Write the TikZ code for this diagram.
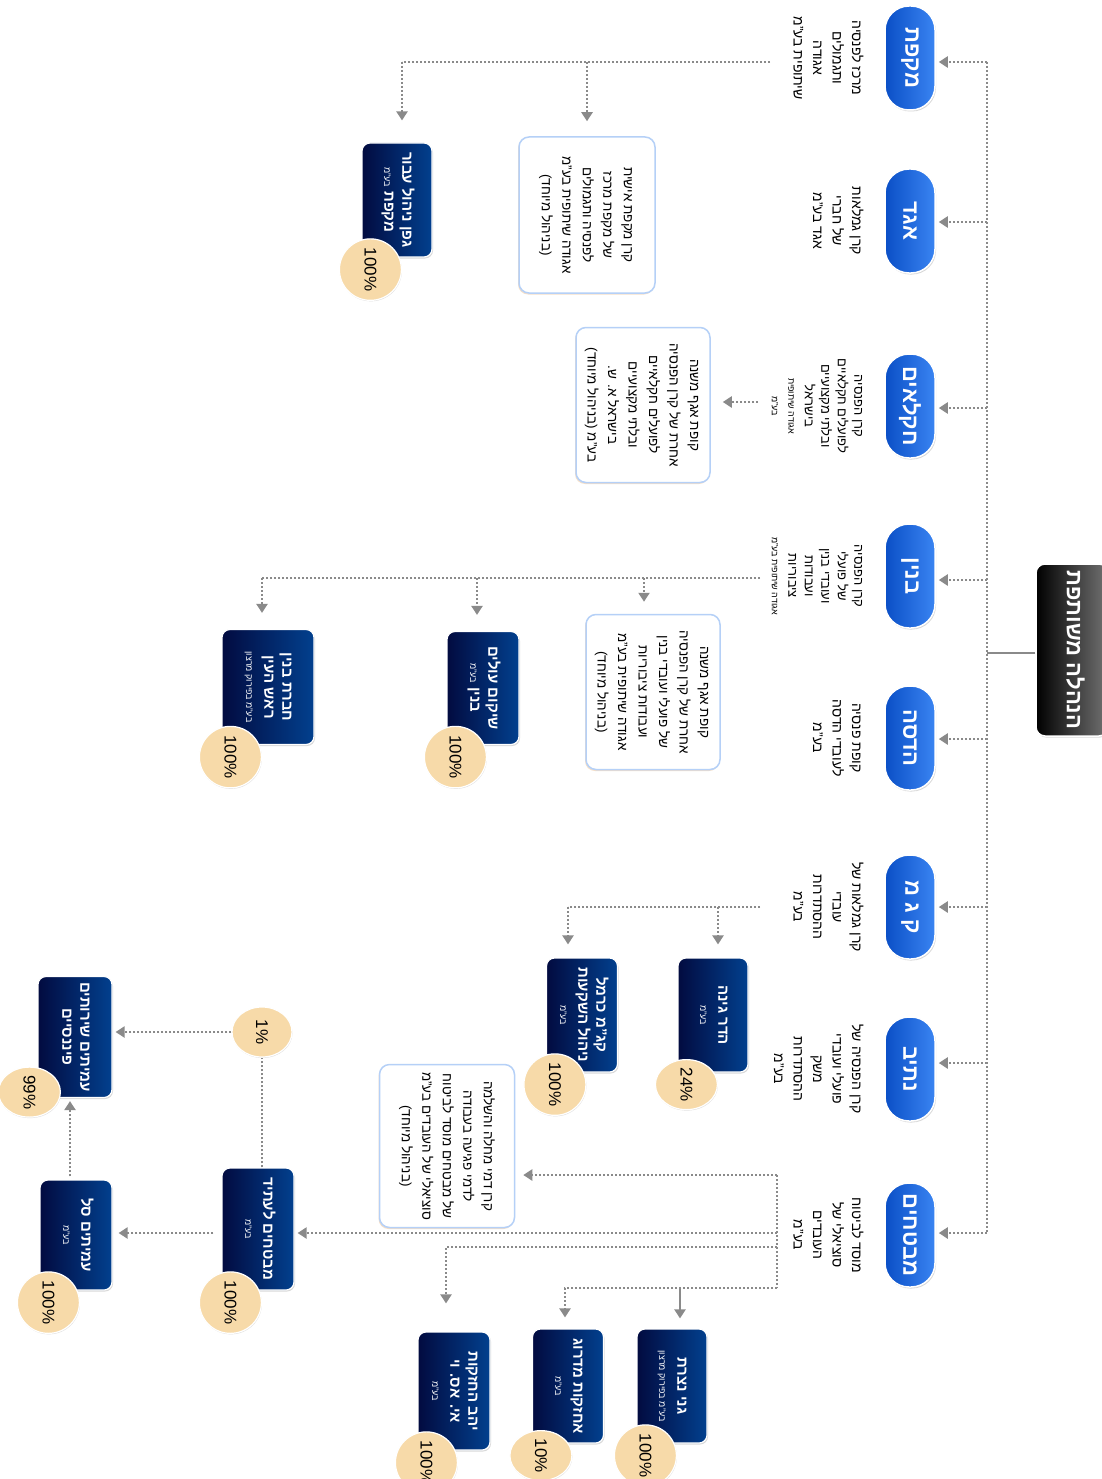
\documentclass[tikz,border=0pt]{standalone}
\usepackage{fontspec}
\setmainfont[Script=Hebrew]{Liberation Sans}
\TeXXeTstate=1
\usetikzlibrary{arrows.meta,shadows,calc,shapes.geometric}
\newcommand{\RL}[1]{\beginR#1\endR}
\newcommand{\rt}[1]{\rotatebox{-90}{\begin{tabular}{@{}c@{}}#1\end{tabular}}}
\newcommand{\sm}[1]{{\fontsize{9}{10}\selectfont\mdseries #1}}
\definecolor{pillA}{HTML}{0A4FC6}
\definecolor{pillB}{HTML}{3A84F2}
\definecolor{navyA}{HTML}{020B40}
\definecolor{navyB}{HTML}{02408E}
\definecolor{badgec}{HTML}{F7DAA9}
\definecolor{wborder}{HTML}{B5D0F7}
\definecolor{connc}{HTML}{8A8A8A}
\tikzset{
 pill/.style={rectangle, rounded corners=24pt, minimum width=50pt, minimum height=104pt,
   left color=pillA, right color=pillB, draw=white, line width=1.5pt, text=white,
   font=\fontsize{22}{26}\selectfont\bfseries, inner sep=0pt,
   drop shadow={shadow xshift=1pt, shadow yshift=-1.5pt, opacity=0.3}},
 rootbox/.style={rectangle, rounded corners=9pt, minimum width=72pt, minimum height=172pt,
   left color=black, right color=black!55, draw=white, line width=1.5pt, text=white,
   font=\fontsize{22}{26}\selectfont\bfseries, inner sep=0pt,
   drop shadow={shadow xshift=1pt, shadow yshift=-1.5pt, opacity=0.3}},
 navybox/.style={rectangle, rounded corners=8pt, left color=navyA, right color=navyB,
   draw=white, line width=1.2pt, text=white, inner sep=0pt,
   font=\fontsize{15}{18}\selectfont\bfseries,
   drop shadow={shadow xshift=1pt, shadow yshift=-1.5pt, opacity=0.3}},
 wbox/.style={rectangle, rounded corners=10pt, fill=white, draw=wborder, line width=1.5pt,
   inner sep=0pt, font=\fontsize{13.5}{20.5}\selectfont,
   drop shadow={shadow xshift=-1pt, shadow yshift=-1.5pt, opacity=0.25, fill=orange!40!brown}},
 badge/.style={ellipse, minimum width=62pt, minimum height=50pt, fill=badgec, draw=white,
   line width=1.2pt, inner sep=0pt, font=\fontsize{17}{17}\selectfont,
   drop shadow={shadow xshift=0.5pt, shadow yshift=-1pt, opacity=0.25}},
 desc/.style={inner sep=0pt, anchor=east, font=\fontsize{14}{19.5}\selectfont},
 descs/.style={inner sep=0pt, anchor=east, font=\fontsize{13}{16.5}\selectfont},
 conn/.style={draw=connc, line width=2.2pt, dash pattern=on 2pt off 2pt},
 arr/.style={conn, -{Triangle[width=11pt,length=9pt]}},
 sarr/.style={draw=connc, line width=2.8pt, -{Triangle[width=11pt,length=9pt]}},
}
\begin{document}
\begin{tikzpicture}[x=1pt,y=-1pt]
\useasboundingbox (0,0) rectangle (1101,1479);
\fill[white] (0,0) rectangle (1101,1479);

% root
\node[rootbox] (root) at (1072,650) {\rt{\RL{הנהלה משותפת}}};
\coordinate (tc) at (987,653);
\coordinate (ttop) at (987,62);
\coordinate (tbot) at (987,1233);
\draw[conn] (ttop) -- (tbot);
\draw[draw=connc, line width=2.5pt] (root.west |- tc) -- (tc);

% level 1
\foreach \n/\y/\t in {n1/58/מקפת, n2/221/אגד, n3/406/חקלאים, n4/576/בנין, n5/738/הדסה, n6/907/ק ג מ, n7/1069/נתיב, n8/1235/מבטחים}{
  \node[pill] (\n) at (910,\y) {\rotatebox{-90}{\RL{\t}}};
}
\foreach \n/\y in {n1/62, n2/222, n3/408, n4/580, n5/739, n6/907, n7/1063, n8/1233}{
  \coordinate (t\n) at (987,\y);
  \draw[arr, shorten >=3pt] (t\n) -- (\n.east |- t\n);
}

% descriptions
\node[desc] (d1) at (866,58) {\rt{\RL{מרכז לפנסיה}\\\RL{ותגמולים}\\\RL{אגודה}\\\RL{שיתופית בע"מ}}};
\node[desc] (d2) at (866,221) {\rt{\RL{קרן גמלאות}\\\RL{של חברי}\\\RL{אגד בע"מ}}};
\node[descs] (d3) at (866,406) {\rt{\RL{קרן הפנסיה}\\\RL{לפועלים חקלאיים}\\\RL{ובלתי מקצועיים}\\\RL{בישראל}\\\sm{\RL{אגודה שיתופית}}\\\sm{\RL{בע"מ}}}};
\node[descs] (d4) at (866,576) {\rt{\RL{קרן הפנסיה}\\\RL{של פועלי}\\\RL{ועובדי בנין}\\\RL{ועבודות}\\\RL{ציבוריות}\\\sm{\RL{אגודה שיתופית בע"מ}}}};
\node[desc] (d5) at (866,738) {\rt{\RL{קופת פנסיה}\\\RL{לעובדי הדסה}\\\RL{בע"מ}}};
\node[desc] (d6) at (866,907) {\rt{\RL{קרן גמלאות של}\\\RL{עובדי}\\\RL{ההסתדרות}\\\RL{בע"מ}}};
\node[desc] (d7) at (866,1069) {\rt{\RL{קרן הפנסיה של}\\\RL{פועלי ועובדי}\\\RL{משק}\\\RL{ההסתדרות}\\\RL{בע"מ}}};
\node[desc] (d8) at (866,1235) {\rt{\RL{מוסד לביטוח}\\\RL{סוציאלי של}\\\RL{העובדים}\\\RL{בע"מ}}};

% white boxes
\node[wbox, minimum width=136pt, minimum height=156pt] (wa) at (587,215) {\rt{\RL{קרן מקפת אישית}\\\RL{של מקפת מרכז}\\\RL{לפנסיה ותגמולים}\\\RL{אגודה שיתופית בע"מ}\\\RL{(בניהול מיוחד)}}};
\node[wbox, minimum width=134pt, minimum height=155pt] (wb) at (643,405) {\rt{\RL{קופת אגף משנה}\\\RL{אחרת של קרן הפנסיה}\\\RL{לפועלים חקלאיים}\\\RL{ובלתי מקצועיים}\\\RL{בישראל א. ש.}\\\RL{בע"מ (בניהול מיוחד)}}};
\node[wbox, minimum width=134pt, minimum height=155pt] (wc) at (653,692) {\rt{\RL{קופת אגף משנה}\\\RL{אחרת של קרן הפנסיה}\\\RL{של פועלי ועובדי בנין}\\\RL{ועבודות ציבוריות}\\\RL{אגודה שיתופית בע"מ}\\\RL{(בניהול מיוחד)}}};
\node[wbox, minimum width=135pt, minimum height=163pt] (wd) at (447,1146) {\rt{\RL{קרן דמי מחלה והשלמה}\\\RL{לדמי פגיעה בעבודה}\\\RL{של מבטחים מוסד לביטוח}\\\RL{סוציאלי של העובדים בע"מ}\\\RL{(בניהול מיוחד)}}};

% navy boxes
\node[navybox, minimum width=70pt, minimum height=114pt] (na) at (397,200) {\rt{\RL{גפן ניהול עבור}\\\RL{מקפת \sm{בע"מ}}}};
\node[navybox, minimum width=72pt, minimum height=113pt] (nb1) at (483,688) {\rt{\RL{שיקום עולים}\\\RL{בנין \sm{בע"מ}}}};
\node[navybox, minimum width=92pt, minimum height=115pt] (nb2) at (268,687) {\rt{\RL{חברת בנין}\\\RL{ראש העין}\\\sm{\RL{בע"מ בפירוק מרצון}}}};
\node[navybox, minimum width=70pt, minimum height=114pt] (nk1) at (713,1015) {\rt{\RL{הדר גינה}\\\sm{\RL{בע"מ}}}};
\node[navybox, minimum width=71pt, minimum height=114pt] (nk2) at (582,1015) {\rt{\RL{קג"מ כרמל}\\\RL{ניהול השקעות}\\\sm{\RL{בע"מ}}}};
\node[navybox, minimum width=72pt, minimum height=122pt] (nl) at (258,1229) {\rt{\RL{מבטחים לעתיד}\\\sm{\RL{בע"מ}}}};
\node[navybox, minimum width=72pt, minimum height=110pt] (ns) at (76,1235) {\rt{\RL{עמיתים סל}\\\sm{\RL{בע"מ}}}};
\node[navybox, minimum width=74pt, minimum height=121pt] (nf) at (75,1037) {\rt{\RL{עמיתים שירותים}\\\RL{פיננסיים}}};
\node[navybox, minimum width=72pt, minimum height=118pt] (ny) at (454,1391) {\rt{\RL{יהב החזקות}\\\RL{אי. אס. וי}\\\sm{\RL{בע"מ}}}};
\node[navybox, minimum width=71pt, minimum height=114pt] (nm) at (568,1386) {\rt{\RL{אחזקות מדרוג}\\\sm{\RL{בע"מ}}}};
\node[navybox, minimum width=70pt, minimum height=114pt] (ng) at (672,1386) {\rt{\RL{גני נצרת}\\\sm{\RL{בע"מ בפירוק מרצון}}}};

% badges
\foreach \b/\p in {na/100, nb1/100, nb2/100, nk1/24, nk2/100, nl/100, ns/100, ny/100, nm/10, ng/100}{
  \node[badge] (b\b) at ($(\b.south west)+(9,12)$) {\rotatebox{-90}{\p\%}};
}
\node[badge] (bnf) at ($(nf.south west)+(-8,-6)$) {\rotatebox{-90}{99\%}};
\node[badge, minimum width=60pt, minimum height=50pt] (one) at (262,1032) {\rotatebox{-90}{1\%}};

% makefet branch
\coordinate (m0) at (770,62);
\coordinate (m1) at (587,62);
\coordinate (m2) at (402,62);
\draw[conn] (m0) -- (m2);
\draw[arr, shorten >=15pt] (m1) -- (m1 |- wa.north);
\draw[arr, shorten >=22pt] (m2) -- (m2 |- na.north);

% chaklaim
\coordinate (h0) at (758,402);
\draw[arr, shorten >=12pt] (h0) -- (h0 -| wb.east);

% binyan
\coordinate (b0) at (760,578);
\coordinate (b1) at (644,578);
\coordinate (b2) at (477,578);
\coordinate (b3) at (262,578);
\draw[conn] (b0) -- (b3);
\draw[arr, shorten >=12pt] (b1) -- (b1 |- wc.north);
\draw[arr, shorten >=16pt] (b2) -- (b2 |- nb1.north);
\draw[arr, shorten >=16pt] (b3) -- (b3 |- nb2.north);

% kagam
\coordinate (k0) at (760,907);
\coordinate (k1) at (718,907);
\coordinate (k2) at (568,907);
\draw[conn] (k0) -- (k2);
\draw[arr, shorten >=13pt] (k1) -- (k1 |- nk1.north);
\draw[arr, shorten >=13pt] (k2) -- (k2 |- nk2.north);

% mivtachim
\coordinate (v0) at (777,1175);
\coordinate (v1) at (777,1288);
\coordinate (v2) at (777,1233);
\coordinate (v3) at (777,1247);
\coordinate (v4) at (446,1247);
\coordinate (v5) at (565,1288);
\coordinate (v6) at (680,1288);
\draw[conn] (v0) -- (v1);
\draw[arr, shorten >=8pt] (v0) -- (v0 -| wd.east);
\draw[arr, shorten >=3pt] (v2) -- (v2 -| nl.east);
\draw[arr, shorten >=28pt] (v3) -- (v4) -- (v4 |- ny.north);
\draw[arr, shorten >=11pt] (v1) -- (v5) -- (v5 |- nm.north);
\draw[sarr, shorten >=10pt] (v6) -- (v6 |- ng.north);

% amitim
\draw[arr, shorten >=6pt] ($(nl.west)+(-8,4)$) -- ($(ns.east)+(0,-2)$);
\draw[conn] (nl.north -| one) -- (one);
\draw[arr, shorten >=3pt] (one) -- (one -| nf.east);
\draw[arr, shorten >=3pt] ($(ns.north)+(-6,-3)$) -- ($(nf.south)+(-5,0)$);
\end{tikzpicture}
\end{document}
